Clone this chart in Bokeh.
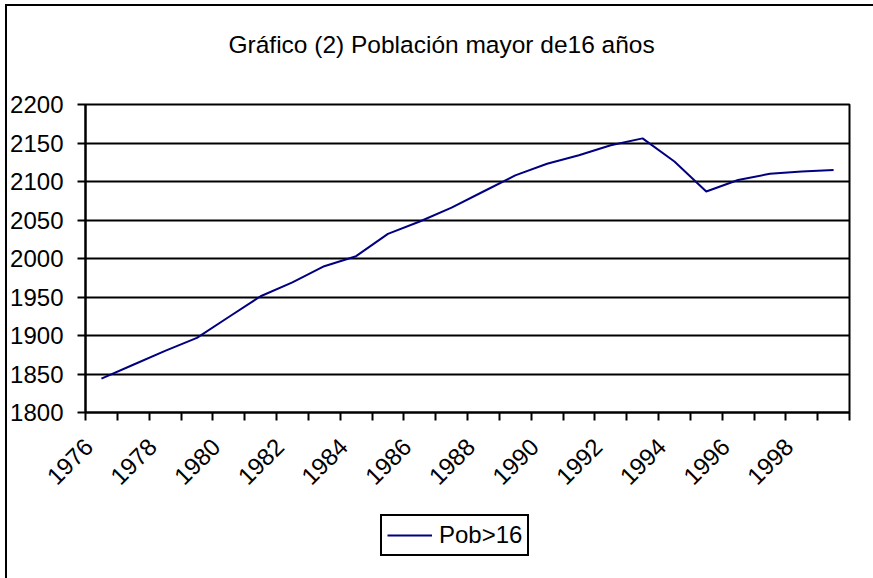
import math
from bokeh.plotting import figure
from bokeh.layouts import column
from bokeh.models import (FixedTicker, Legend, LegendItem, Range1d, Label)
from bokeh.embed import file_html
from bokeh.resources import INLINE

# ---- data ----
years = [str(y) for y in range(1976, 2000)]
pob = [1844, 1862, 1880, 1897, 1924, 1951, 1969, 1990, 2003, 2032, 2048, 2066,
       2087, 2108, 2123, 2134, 2147, 2156, 2126, 2087, 2102, 2110, 2113, 2115]
y_ticks = [1800, 1850, 1900, 1950, 2000, 2050, 2100, 2150, 2200]
title_text = "Gráfico (2) Población mayor de16 años"
series_name = "Pob>16"

FONT = "Liberation Sans"
NAVY = "#000080"
n = len(years)
xs = list(range(n))

FW = 764          # frame width shared by all strips
ML, MR = 78, 24   # side borders

# ---- title strip ----
tt = figure(frame_width=FW, frame_height=60, output_backend="svg", toolbar_location=None,
            x_range=Range1d(0, FW), y_range=Range1d(0, 60),
            x_axis_type=None, y_axis_type=None,
            min_border_left=ML, min_border_right=MR, min_border_top=0, min_border_bottom=0)
tt.title = None
tt.outline_line_color = None
tt.grid.grid_line_color = None
tt.add_layout(Label(x=143, y=22, text=title_text, text_align="left",
                    text_baseline="alphabetic", text_font=FONT,
                    text_font_size="24.5px", text_color="black"))

# ---- main chart ----
p = figure(frame_width=FW, frame_height=308, output_backend="svg", toolbar_location=None,
           x_range=Range1d(-0.5, n - 0.5), y_range=Range1d(y_ticks[0], y_ticks[-1]),
           min_border_left=ML, min_border_right=MR, min_border_top=38,
           min_border_bottom=100)
p.title = None

r = p.line(xs, pob, line_color=NAVY, line_width=2)

# x axis: labels every other year (Excel-style anchoring), tick marks at category boundaries
label_pos = [i - 0.4 for i in xs[::2]]
xt = FixedTicker(ticks=label_pos, minor_ticks=[i - 0.5 for i in range(n + 1)])
p.xaxis.ticker = xt
p.xaxis.major_label_overrides = {pos: years[i] for pos, i in zip(label_pos, xs[::2])}
p.xaxis.major_label_orientation = math.pi / 4
p.xaxis.major_tick_out = 0
p.xaxis.major_tick_in = 0
p.xaxis.minor_tick_out = 8
p.xaxis.minor_tick_in = 0
p.xaxis.minor_tick_line_color = "black"
p.xaxis.minor_tick_line_width = 2
p.xaxis.major_label_standoff = 22

p.yaxis.ticker = FixedTicker(ticks=y_ticks, minor_ticks=[])
p.yaxis.major_tick_out = 8
p.yaxis.major_tick_in = 0
p.yaxis.major_label_standoff = 14
p.yaxis.major_tick_line_width = 2
p.yaxis.major_tick_line_color = "black"

for ax in (p.xaxis, p.yaxis):
    ax.axis_line_color = "black"
    ax.axis_line_width = 2
    ax.major_label_text_font = FONT
    ax.major_label_text_font_size = "24px"
    ax.major_label_text_color = "black"

p.xgrid.grid_line_color = None
p.ygrid.grid_line_color = "black"
p.ygrid.grid_line_width = 2
p.ygrid.ticker = FixedTicker(ticks=y_ticks)

p.outline_line_color = "black"
p.outline_line_width = 2
p.outline_line_alpha = 1

# ---- legend strip ----
lg = figure(frame_width=FW, frame_height=66, output_backend="svg", toolbar_location=None,
            x_range=Range1d(-0.5, n - 0.5), y_range=Range1d(0, 1),
            x_axis_type=None, y_axis_type=None,
            min_border_left=ML, min_border_right=MR, min_border_top=0, min_border_bottom=0)
lg.title = None
lg.outline_line_color = None
lg.grid.grid_line_color = None
# same series, outside this strip's visible range; only its legend entry shows
r_leg = lg.line(xs, pob, line_color=NAVY, line_width=2)

legend = Legend(items=[LegendItem(label=series_name, renderers=[r_leg])],
                location=(295, 22), orientation="horizontal",
                label_text_font=FONT, label_text_font_size="24px",
                label_text_color="black", glyph_width=45, glyph_height=20,
                label_height=20, padding=5, margin=0, spacing=0,
                label_standoff=7,
                border_line_color="black", border_line_width=2,
                border_line_alpha=1, background_fill_alpha=1)
lg.add_layout(legend, "center")

layout = column(tt, p, lg, spacing=0,
                styles={"border-left": "2px solid black",
                        "border-top": "2px solid black",
                        "margin-left": "5px", "margin-top": "4px"})

open("out.html", "w").write(file_html(layout, INLINE))
